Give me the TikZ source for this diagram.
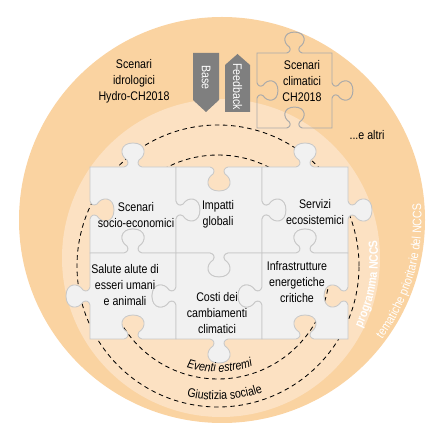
\documentclass[tikz,border=0pt]{standalone}
\usepackage{fontspec}
\setmainfont{Liberation Sans}[FakeStretch=0.85]
\usetikzlibrary{decorations.text}
\definecolor{bandout}{HTML}{FAD3A1}
\definecolor{bandin}{HTML}{FCE1C2}
\definecolor{pzfill}{HTML}{F1F1F1}
\definecolor{pzline}{HTML}{C8C8C8}
\definecolor{flowgray}{HTML}{7F7F7F}
% one side of a piece: start #1,#2, direction #3,#4, knob #5 (1 out, -1 in)
\newcommand\pzedge[5]{%
  -- ({#1+34*(#3)},{#2+34*(#4)})
  .. controls ({#1+38*(#3)+1*(#5)*(#4)},{#2+38*(#4)-1*(#5)*(#3)})
  and ({#1+39*(#3)+4*(#5)*(#4)},{#2+39*(#4)-4*(#5)*(#3)})
  .. ({#1+37*(#3)+7*(#5)*(#4)},{#2+37*(#4)-7*(#5)*(#3)})
  .. controls ({#1+29*(#3)+12*(#5)*(#4)},{#2+29*(#4)-12*(#5)*(#3)})
  and ({#1+30*(#3)+24*(#5)*(#4)},{#2+30*(#4)-24*(#5)*(#3)})
  .. ({#1+43*(#3)+24*(#5)*(#4)},{#2+43*(#4)-24*(#5)*(#3)})
  .. controls ({#1+56*(#3)+24*(#5)*(#4)},{#2+56*(#4)-24*(#5)*(#3)})
  and ({#1+57*(#3)+12*(#5)*(#4)},{#2+57*(#4)-12*(#5)*(#3)})
  .. ({#1+49*(#3)+7*(#5)*(#4)},{#2+49*(#4)-7*(#5)*(#3)})
  .. controls ({#1+47*(#3)+4*(#5)*(#4)},{#2+47*(#4)-4*(#5)*(#3)})
  and ({#1+48*(#3)+1*(#5)*(#4)},{#2+48*(#4)-1*(#5)*(#3)})
  .. ({#1+52*(#3)},{#2+52*(#4)})
  -- ({#1+86*(#3)},{#2+86*(#4)})}
% whole piece, sides bottom/right/top/left
\newcommand\puzzle[4]{(0,0) \pzedge{0}{0}{1}{0}{#1} \pzedge{86}{0}{0}{1}{#2}
  \pzedge{86}{86}{-1}{0}{#3} \pzedge{0}{86}{0}{-1}{#4} -- cycle}

\begin{document}
\begin{tikzpicture}[x=0.025cm,y=0.025cm,
  lbl/.style={align=center,inner sep=0pt,font=\fontsize{8.9}{11.3}\selectfont},
  pz/.style={fill=pzfill,draw=pzline,line width=0.6pt},
  pzghost/.style={draw=pzline!85!black,line width=0.7pt},
  ring/.style={black,line width=0.6pt,dash pattern=on 3.2pt off 2.6pt},
  flowtext/.style={lbl,text=white,rotate=-90}]
\useasboundingbox (0,0) rectangle (440,440);
% the two bands
\fill[bandout] (222,220) circle[radius=203];
\fill[bandin] (221,182) circle[radius=159];
% dashed rings, mostly under the pieces
\draw[ring] (218,174) circle[radius=141];
\draw[ring] (218,173) circle[radius=112];
% six pieces: x/y/bottom/right/top/left
\foreach \px/\py/\kb/\kr/\kt/\kl in {90/187/-1/1/1/-1,176/187/1/1/-1/-1,
  262/187/-1/1/1/-1,90/101/-1/-1/1/1,176/101/1/-1/-1/1,262/101/-1/-1/1/1}{
  \draw[pz,shift={(\px,\py)}] \puzzle{\kb}{\kr}{\kt}{\kl};
}
\draw[pzghost,shift={(257,312)},scale=0.872] \puzzle{-1}{1}{1}{-1};
% texts
\node[lbl] (hydro) at (134,359) {Scenari\\idrologici\\Hydro-CH2018};
\node[lbl] (clima) at (302,359) {Scenari\\climatici\\CH2018};
\node[lbl] (altri) at (367,305) {...e altri};
\node[lbl] (socio) at (136,225) {Scenari\\socio-economici};
\node[lbl] (globali) at (218,226) {Impatti\\globali};
\node[lbl] (servizi) at (315,228) {Servizi\\ecosistemici};
\node[lbl] (salute) at (125,155) {Salute alute di\\esseri umani\\e animali};
\node[lbl] (costi) at (217,127) {Costi dei\\cambiamenti\\climatici};
\node[lbl] (infra) at (297,158) {Infrastrutture\\energetiche\\critiche};
% base / feedback
\fill[flowgray] (193,387) -- (219,387) -- (219,340) -- (206,328) -- (193,340) -- cycle;
\node[flowtext] (base) at (206,362.5) {Base};
\fill[flowgray] (225,328) -- (250,328) -- (250,375) -- (237.5,386) -- (225,375) -- cycle;
\node[flowtext] (feedback) at (237.5,353.5) {Feedback};
% curved labels
\path[decorate,decoration={text along path,text align=center,
  text={|\fontsize{8.9}{9}\selectfont\itshape|Eventi estremi}}]
  (218,173) ++(231:105) arc[start angle=231,end angle=311,radius=105];
\path[decorate,decoration={text along path,text align=center,
  text={|\fontsize{8.9}{9}\selectfont|Giustizia sociale}}]
  (218,174) ++(233:134) arc[start angle=233,end angle=313,radius=134];
\path[decorate,decoration={text along path,text align=center,text color=white,
  text={|\fontsize{8.8}{9}\selectfont\bfseries|programma NCCS}}]
  (221,182) ++(-45:157) arc[start angle=-45,end angle=25,radius=157];
\path[decorate,decoration={text along path,text align=center,text color=white,
  text={|\fontsize{8.9}{9}\selectfont|tematiche prioritarie del NCCS}}]
  (222,220) ++(-60:199.5) arc[start angle=-60,end angle=28,radius=199.5];
\end{tikzpicture}
\end{document}
